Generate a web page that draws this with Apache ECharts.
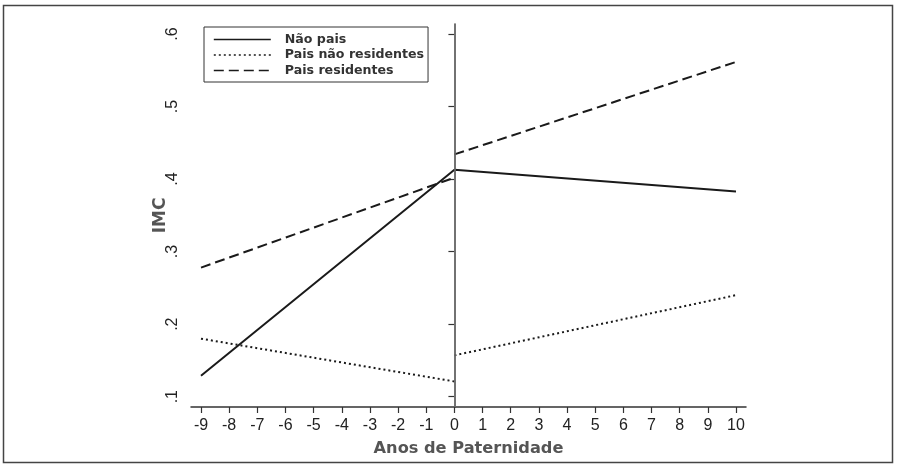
<!DOCTYPE html>
<html>
<head>
<meta charset="utf-8">
<script src="https://cdn.jsdelivr.net/npm/echarts@6/dist/echarts.min.js"></script>
<style>html,body{margin:0;padding:0;background:#fff;}#c{width:900px;height:470px;}</style>
</head>
<body>
<div id="c"></div>
<script>
// ---- data ----
const xTicks = [-9,-8,-7,-6,-5,-4,-3,-2,-1,0,1,2,3,4,5,6,7,8,9,10];
const xTickLabels = ['-9','-8','-7','-6','-5','-4','-3','-2','-1','0','1','2','3','4','5','6','7','8','9','10'];
const yTicks = [0.1,0.2,0.3,0.4,0.5,0.6];
const yTickLabels = ['.1','.2','.3','.4','.5','.6'];
const seriesNames = ['Não pais','Pais não residentes','Pais residentes'];

const naoPaisX = [-9, 0, 10];
const naoPaisY = [0.129, 0.413, 0.383];

const naoResAntesX = [-9, 0];
const naoResAntesY = [0.180, 0.121];
const naoResDepoisX = [0, 10];
const naoResDepoisY = [0.157, 0.240];

const resAntesX = [-9, 0];
const resAntesY = [0.278, 0.402];
const resDepoisX = [0, 10];
const resDepoisY = [0.434, 0.5615];

const xTitle = 'Anos de Paternidade';
const yTitle = 'IMC';

// ---- chart ----
const pairs = (xs, ys) => xs.map((x, i) => [x, ys[i]]);
const chart = echarts.init(document.getElementById('c'), null, {renderer: 'canvas'});

const solid = {color: '#1a1a1a', width: 2, type: 'solid'};
const dotted = {color: '#1a1a1a', width: 2, type: [2, 3]};
const dashed = {color: '#1a1a1a', width: 2, type: [10, 5]};

function lineSeries(name, data, ls, extra) {
  return Object.assign({
    type: 'line', name: name, data: data, symbol: 'none', silent: true,
    lineStyle: ls, itemStyle: {color: ls.color}, animation: false
  }, extra || {});
}

const option = {
  animation: false,
  backgroundColor: '#fff',
  grid: {left: 191, right: 154, top: 24, bottom: 63, containLabel: false},
  legend: {
    orient: 'vertical', left: 204, top: 27,
    data: seriesNames,
    itemWidth: 57, itemHeight: 14, itemGap: 2.5,
    padding: [6, 4, 5, 9],
    borderColor: '#333', borderWidth: 1,
    itemStyle: {opacity: 0},
    lineStyle: {width: 1.6},
    textStyle: {fontFamily: 'DejaVu Sans', fontWeight: 'bold', fontSize: 12.6, color: '#333', padding: [0, 0, 0, 9]},
    selectedMode: false
  },
  xAxis: {
    type: 'value', min: -9.355, max: 10.355,
    name: xTitle, nameLocation: 'middle', nameGap: 34, nameMoveOverlap: false,
    nameTextStyle: {fontFamily: 'DejaVu Sans', fontWeight: 'bold', fontSize: 16.2, color: '#555'},
    axisLine: {show: true, lineStyle: {color: '#333', width: 1.5}},
    axisTick: {show: true, length: 6, lineStyle: {color: '#333', width: 1.2}, customValues: xTicks},
    axisLabel: {show: true, margin: 11, fontFamily: 'Liberation Sans', fontSize: 16, color: '#222',
      customValues: xTicks,
      formatter: v => { const i = xTicks.findIndex(t => Math.abs(t - v) < 1e-9); return i >= 0 ? xTickLabels[i] : ''; }},
    splitLine: {show: false}
  },
  yAxis: {
    type: 'value', min: 0.0858, max: 0.6138,
    name: yTitle, nameLocation: 'middle', nameGap: 22, nameRotate: 90, nameMoveOverlap: false,
    nameTextStyle: {fontFamily: 'DejaVu Sans', fontWeight: 'bold', fontSize: 17, color: '#555'},
    axisLine: {show: true, lineStyle: {color: '#333', width: 1.5}},
    axisTick: {show: true, length: 6, lineStyle: {color: '#333', width: 1.2}, customValues: yTicks},
    axisLabel: {show: true, margin: 10, rotate: 90, fontFamily: 'Liberation Sans', fontSize: 16, color: '#222',
      customValues: yTicks,
      formatter: v => { const i = yTicks.findIndex(t => Math.abs(t - v) < 1e-9); return i >= 0 ? yTickLabels[i] : ''; }},
    splitLine: {show: false}
  },
  graphic: [{
    type: 'rect', silent: true, z: -10,
    shape: {x: 3.5, y: 5.5, width: 889, height: 457},
    style: {fill: 'none', stroke: '#444', lineWidth: 1.5}
  }],
  series: [
    lineSeries(seriesNames[0], pairs(naoPaisX, naoPaisY), solid, {
      markLine: {
        silent: true, symbol: 'none', animation: false,
        label: {show: false},
        lineStyle: {color: '#777', width: 1.5, type: 'solid'},
        data: [{xAxis: 0}]
      }
    }),
    lineSeries(seriesNames[1], pairs(naoResAntesX, naoResAntesY), dotted),
    lineSeries(seriesNames[1], pairs(naoResDepoisX, naoResDepoisY), dotted),
    lineSeries(seriesNames[2], pairs(resAntesX, resAntesY), dashed),
    lineSeries(seriesNames[2], pairs(resDepoisX, resDepoisY), dashed)
  ]
};
chart.setOption(option);
</script>
</body>
</html>
